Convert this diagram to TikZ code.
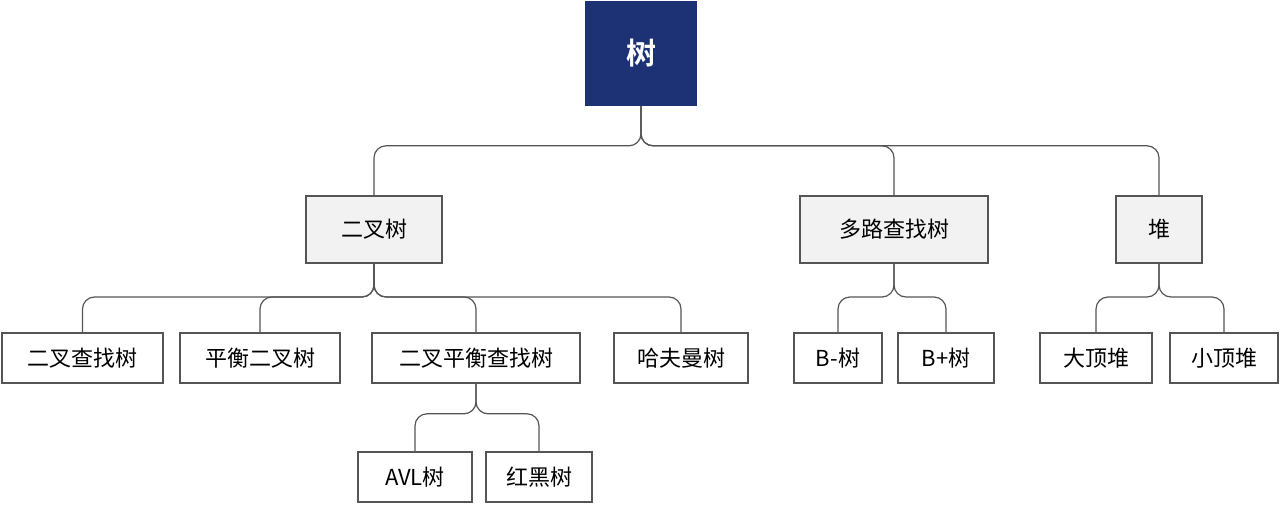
\documentclass[tikz,border=0pt]{standalone}
\usepackage{fontspec}
\setmainfont{Noto Sans CJK SC}
\newfontfamily\cjkbold{Noto Sans CJK SC Bold}
\definecolor{rootblue}{HTML}{1C3275}
\definecolor{boxgray}{HTML}{F2F2F2}
\definecolor{edgegray}{HTML}{555555}
\begin{document}
\begin{tikzpicture}[x=0.5pt,y=-0.5pt,
  bx/.style={draw=edgegray,line width=0.8pt,inner sep=0pt,font=\fontsize{11}{13}\selectfont},
  lvl1/.style={bx,fill=boxgray,line width=1pt},
  leaf/.style={bx,fill=white},
  conn/.style={draw=edgegray,line width=0.6pt,rounded corners=6pt}]
\useasboundingbox (0,0) rectangle (1280,504);
\newcommand\bx[6]{\node[#1,minimum width={(#4-#3)*0.5pt},minimum height={(#6-#5)*0.5pt}] (#2) at ({(#3+#4)/2},{(#5+#6)/2})}
\bx{bx,fill=rootblue,draw=rootblue,text=white,font=\cjkbold\fontsize{15}{18}\selectfont}{root}{586}{696}{2}{105}{树};
\bx{lvl1}{bt}{306}{442}{196}{263}{二叉树};
\bx{lvl1}{mw}{800}{988}{196}{263}{多路查找树};
\bx{lvl1}{heap}{1116}{1202}{196}{263}{堆};
\bx{leaf}{bst}{2}{163}{333}{383}{二叉查找树};
\bx{leaf}{bal}{180}{340}{333}{383}{平衡二叉树};
\bx{leaf}{bbst}{372}{580}{333}{383}{二叉平衡查找树};
\bx{leaf}{huff}{614}{748}{333}{383}{哈夫曼树};
\bx{leaf}{bm}{794}{882}{333}{383}{B-树};
\bx{leaf}{bp}{898}{994}{333}{383}{B+树};
\bx{leaf}{big}{1040}{1152}{333}{383}{大顶堆};
\bx{leaf}{small}{1170}{1278}{333}{383}{小顶堆};
\bx{leaf}{avl}{358}{472}{452}{502}{AVL树};
\bx{leaf}{rb}{486}{592}{452}{502}{红黑树};
\foreach \c in {bt,mw,heap}{\draw[conn] (root.south) -- ++(0,40) -| (\c.north);}
\foreach \c in {bst,bal,bbst,huff}{\draw[conn] (bt.south) -- ++(0,33) -| (\c.north);}
\foreach \c in {bm,bp}{\draw[conn] (mw.south) -- ++(0,33) -| (\c.north);}
\foreach \c in {big,small}{\draw[conn] (heap.south) -- ++(0,33) -| (\c.north);}
\foreach \c in {avl,rb}{\draw[conn] (bbst.south) -- ++(0,30) -| (\c.north);}
\end{tikzpicture}
\end{document}
